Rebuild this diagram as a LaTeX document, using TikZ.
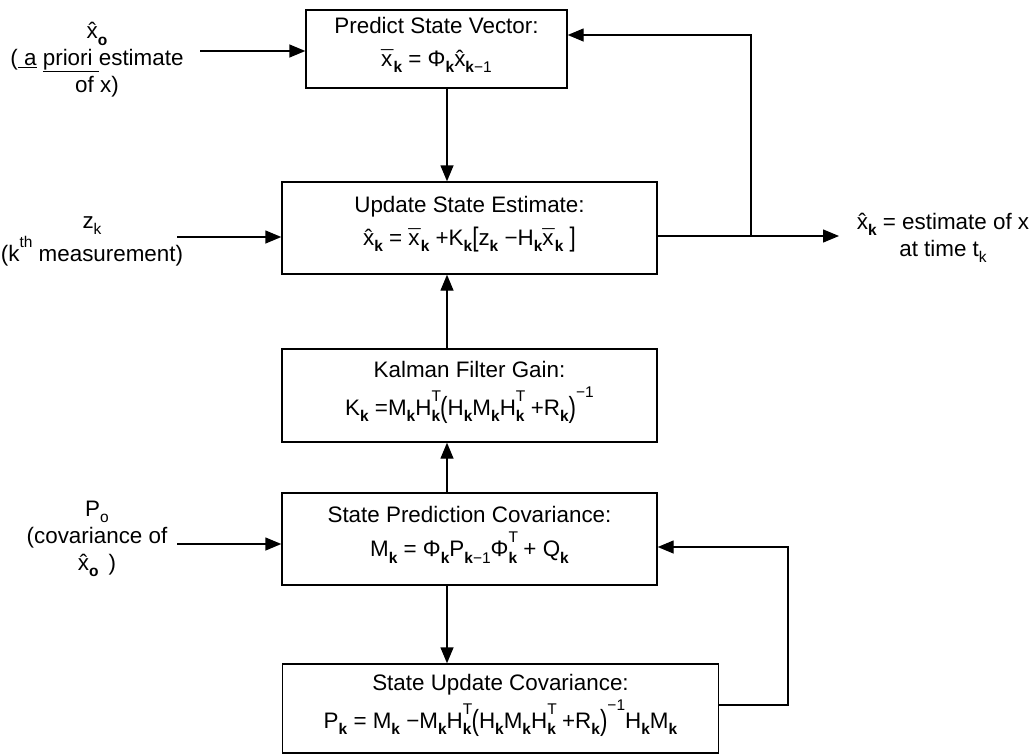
\documentclass[tikz,border=0pt]{standalone}
\usepackage{fontspec}
\setmainfont{Liberation Sans}
\usepackage{graphicx}
\usetikzlibrary{arrows.meta}
\newcommand{\sbb}[1]{\raisebox{-0.3em}{\fontsize{15.5}{15.5}\selectfont #1}}
\newcommand{\spp}[1]{\raisebox{0.62em}{\fontsize{15.5}{15.5}\selectfont #1}}
\newcommand{\kb}{\sbb{\textbf{k}}}
\newcommand{\kT}{\rlap{\spp{T}}\kb}
\newcommand{\xh}{\ooalign{x\cr\hfil\char"02C6\hfil\cr}}
\newcommand{\xb}{\ooalign{x\cr\hfil\char"00AF\hfil\cr}}
\newcommand{\lpar}{\raisebox{-0.12em}{\scalebox{1}[1.3]{(}}}
\newcommand{\rpar}{\raisebox{-0.12em}{\scalebox{1}[1.3]{)}}}
\newcommand{\lbrk}{\raisebox{-0.08em}{\scalebox{1}[1.2]{[}}}
\newcommand{\rbrk}{\raisebox{-0.08em}{\scalebox{1}[1.2]{]}}}
\newcommand{\inv}{\raisebox{0.78em}{\fontsize{15.5}{15.5}\selectfont −1}}
\newcommand{\boxtext}[2]{\raisebox{6pt}[\height][\depth]{\begin{tabular}{@{}c@{}}#1\\#2\end{tabular}}}
\tikzset{
  blk/.style={draw, line width=1.4pt, inner sep=0pt, align=center,
    font=\fontsize{22.4}{33}\selectfont},
  lbl/.style={inner sep=0pt, align=center, font=\fontsize{22.4}{27}\selectfont},
  arr/.style={line width=1.4pt, -{Triangle[length=16pt,width=13pt]}}
}
\begin{document}
\begin{tikzpicture}[x=1pt,y=-1pt]
\useasboundingbox (0,0) rectangle (1034,755);
% blocks
\node[blk, minimum width=261pt, minimum height=78pt] (box1) at (436.5,49)
  {\boxtext{Predict State Vector:}{\xb\kb{} = Φ\kb\xh\sbb{\textbf{k}−1}}};
\node[blk, minimum width=375pt, minimum height=92pt] (box2) at (469.5,228)
  {\boxtext{Update State Estimate:}{\xh\kb{} = \xb\kb{} +K\kb\lbrk z\kb{} −H\kb\xb\kb{} \rbrk}};
\node[blk, minimum width=375pt, minimum height=93pt] (box3) at (469.5,395.5)
  {\boxtext{Kalman Filter Gain:}{K\kb{} =M\kb H\kT\lpar H\kb M\kb H\kT{} +R\kb\rpar\inv}};
\node[blk, minimum width=375pt, minimum height=92pt] (box4) at (469.5,539)
  {\boxtext{State Prediction Covariance:}{M\kb{} = Φ\kb P\sbb{\textbf{k}−1}Φ\kT{} + Q\kb}};
\node[blk, minimum width=436pt, minimum height=89pt] (box5) at (500.5,708.5)
  {\boxtext{State Update Covariance:}{P\kb{} = M\kb{} −M\kb H\kT\lpar H\kb M\kb H\kT{} +R\kb\rpar\inv H\kb M\kb}};
% side labels
\node[lbl] (lab1) at (97,62) {\xh\sbb{\textbf{o}}\\(\underline{\ a} \underline{priori\ }estimate\\of x)};
\node[lbl] (lab2) at (92,241) {z\sbb{k}\\(k\spp{th} measurement)};
\node[lbl] (lab3) at (97,539) {P\sbb{o}\\(covariance of\\\xh\sbb{\textbf{o}}\ \,)};
\node[lbl] (lab4) at (943,238) {\xh\kb{} = estimate of x\\at time t\sbb{k}};
% coordinates
\coordinate (colA) at (447,0);
\coordinate (in1) at (200,51);
\coordinate (in2) at (177,237);
\coordinate (in3) at (177,544);
\coordinate (outtip) at (839,236);
\coordinate (fbA) at (751,236);
\coordinate (fbAtop) at (751,35);
\coordinate (fbB) at (788,705);
\coordinate (fbBtop) at (788,547);
% vertical flow
\draw[arr] (box1.south -| colA) -- (box2.north -| colA);
\draw[arr] (box3.north -| colA) -- (box2.south -| colA);
\draw[arr] (box4.north -| colA) -- (box3.south -| colA);
\draw[arr] (box4.south -| colA) -- (box5.north -| colA);
% inputs
\draw[arr] (in1) -- (box1.west |- in1);
\draw[arr] (in2) -- (box2.west |- in2);
\draw[arr] (in3) -- (box4.west |- in3);
% output and feedback
\draw[arr] (box2.east |- outtip) -- (outtip);
\draw[arr] (fbA) -- (fbAtop) -- (box1.east |- fbAtop);
\draw[arr] (box5.east |- fbB) -- (fbB) -- (fbBtop) -- (box4.east |- fbBtop);
\end{tikzpicture}
\end{document}
